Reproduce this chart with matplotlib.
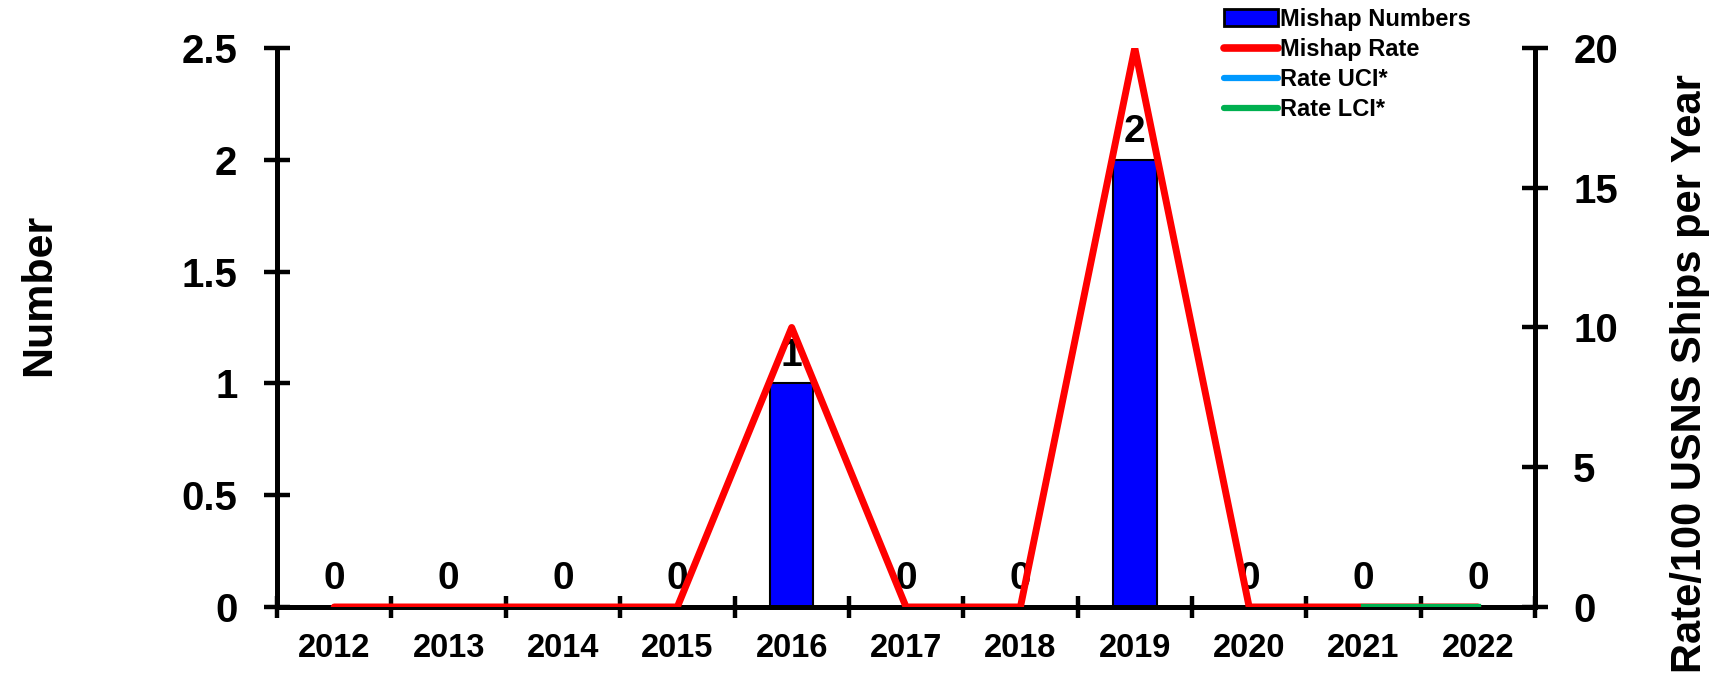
import numpy as np
import matplotlib.pyplot as plt
from matplotlib.patches import Patch
from matplotlib.lines import Line2D

plt.rcParams['font.family'] = ['Liberation Sans', 'DejaVu Sans']
plt.rcParams['font.weight'] = 'bold'

years = ['2012', '2013', '2014', '2015', '2016', '2017', '2018', '2019', '2020', '2021', '2022']
mishap_numbers = [0, 0, 0, 0, 1, 0, 0, 2, 0, 0, 0]
mishap_rate = [0, 0, 0, 0, 10, 0, 0, 20, 0, 0, 0]
rate_uci = [np.nan] * 11
rate_lci = [np.nan] * 9 + [0, 0]

x = np.arange(len(years))

fig = plt.figure(figsize=(17.25, 6.81), dpi=100)
ax = fig.add_axes([0.1606, 0.1087, 0.7293, 0.8208])
ax2 = ax.twinx()

ax.bar(x, mishap_numbers, width=0.38, color='#0000FF', edgecolor='black', linewidth=1.5, zorder=2)
for xi, v in zip(x, mishap_numbers):
    ax.text(xi, v + 0.08, str(v), ha='center', va='baseline', fontsize=28, fontweight='bold', zorder=5)

ax2.plot(x, mishap_rate, color='#FF0000', linewidth=5, zorder=3,
         solid_joinstyle='round', solid_capstyle='round')
ax2.plot(x, rate_uci, color='#0099FF', linewidth=4.5, zorder=4)
ax2.plot(x, rate_lci, color='#00B050', linewidth=4.5, zorder=4)

ax.set_xlim(-0.5, len(years) - 0.5)
ax.set_ylim(0, 2.5)
ax2.set_ylim(0, 20)
ax.set_yticks([0, 0.5, 1, 1.5, 2, 2.5])
ax.set_yticklabels(['0', '0.5', '1', '1.5', '2', '2.5'])
ax2.set_yticks([0, 5, 10, 15, 20])

ax.set_xticks(x)
ax.set_xticklabels(years)
ax.set_xticks(np.arange(-0.5, len(years) + 0.5, 1), minor=True)
ax.tick_params(axis='x', which='major', length=0, labelsize=23.5, pad=19)
ax.tick_params(axis='x', which='minor', direction='inout', length=16, width=3.2)
ax.tick_params(axis='y', direction='inout', length=19, width=3.2, labelsize=29, pad=19)
ax2.tick_params(axis='y', direction='inout', length=19, width=3.2, labelsize=29, pad=18)

for a in (ax, ax2):
    a.spines['top'].set_visible(False)
    for s in ('left', 'right', 'bottom'):
        a.spines[s].set_linewidth(3.5)
ax2.set_zorder(ax.get_zorder() + 1)
ax2.patch.set_visible(False)

fig.text(0.0226, 0.567, 'Number', rotation=90, ha='center', va='center', fontsize=31, fontweight='bold')
fig.text(0.980, 0.452, 'Rate/100 USNS Ships per Year', rotation=90, ha='center', va='center',
         fontsize=30, fontweight='bold')

handles = [Patch(facecolor='#0000FF', edgecolor='black', linewidth=2),
           Line2D([], [], color='#FF0000', linewidth=5.5, solid_capstyle='round'),
           Line2D([], [], color='#0099FF', linewidth=4.5, solid_capstyle='round'),
           Line2D([], [], color='#00B050', linewidth=4.5, solid_capstyle='round')]
labels = ['Mishap Numbers', 'Mishap Rate', 'Rate UCI*', 'Rate LCI*']
fig.legend(handles, labels, loc='upper left', bbox_to_anchor=(0.7026, 1.006), frameon=False,
           borderpad=0, prop={'size': 17, 'weight': 'bold'}, handlelength=2.3, handletextpad=0.08,
           labelspacing=0.3)

plt.savefig('out.png')
